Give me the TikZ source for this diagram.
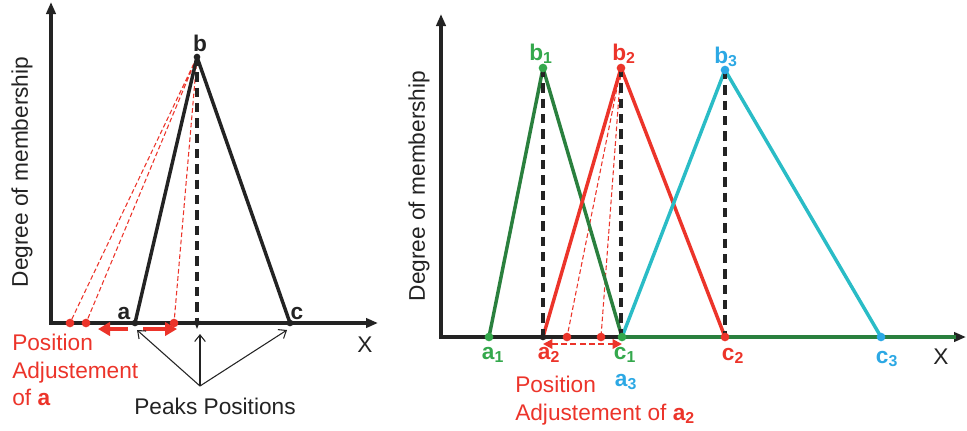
\documentclass[tikz,border=0pt]{standalone}
\usepackage{fontspec}
\setmainfont{Liberation Sans}
\usetikzlibrary{arrows.meta,positioning,calc,shapes.geometric}

\definecolor{mfgray}{RGB}{35,35,35}
\definecolor{mfred}{RGB}{236,52,42}
\definecolor{mfgreen}{RGB}{42,128,62}
\definecolor{mflgreen}{RGB}{52,168,76}
\definecolor{mfcyan}{RGB}{42,188,198}
\definecolor{mfblue}{RGB}{44,168,228}

\begin{document}
\begin{tikzpicture}[x=0.75pt,y=-0.75pt,
  every node/.style={inner sep=0pt},
  axis/.style={line width=2.4pt,mfgray,{Triangle[length=9pt,width=7pt]}-{Triangle[length=9pt,width=7pt]}},
  memb/.style={line width=2.6pt,line join=round},
  peakline/.style={line width=2.6pt,mfgray,dash pattern=on 7pt off 4.5pt},
  adjline/.style={mfred,line width=0.8pt,dash pattern=on 3.5pt off 2pt},
  dot/.style={circle,fill,minimum size=6.5pt},
  txt/.style={font=\fontsize{17}{20.6}\selectfont},
  lbl/.style={font=\fontsize{17}{20.6}\selectfont\bfseries}]
\useasboundingbox (0,0) rectangle (967,430);

% left: one triangle
\coordinate (o1) at (51,323);
\coordinate (xend1) at (378,323);
\coordinate (yend1) at (51,2);
\draw[axis] (yend1) -- (o1) -- (xend1);

\coordinate (a) at (135,323);
\coordinate (b) at (197,57);
\coordinate (c) at (290,323);
\coordinate (bfoot) at (197,323);
\coordinate (pa1) at (70,323);
\coordinate (pa2) at (86,323);
\coordinate (pa3) at (174,323);

\draw[adjline] (b) -- (pa1) (b) -- (pa2) (b) -- (pa3);
\draw[memb,mfgray] (a) -- (b) -- (c);
\draw[peakline] (b) -- (bfoot);
\foreach \p in {a,b,c} \node[dot,mfgray,minimum size=5pt] at (\p) {};
\node[mfgray,isosceles triangle,shape border rotate=-90,fill,minimum size=5pt] at (bfoot) {};
\foreach \p in {pa1,pa2,pa3} \node[dot,mfred] at (\p) {};

\coordinate (mvl0) at (128,329);
\coordinate (mvl1) at (98,329);
\coordinate (mvr0) at (143,329);
\coordinate (mvr1) at (177,329);
\draw[mfred,line width=2.8pt,-{Triangle[length=9pt,width=10pt]}] (mvl0) -- (mvl1);
\draw[mfred,line width=2.8pt,-{Triangle[length=9pt,width=10pt]}] (mvr0) -- (mvr1);

\node[lbl,mfgray] (la) at (124,314) {a};
\node[lbl,mfgray] (lb) at (200,43) {b};
\node[lbl,mfgray] (lc) at (297,314) {c};
\node[txt,mfgray] (lx1) at (365,345) {X};
\node[txt,mfgray,rotate=90] (ylab1) at (22,172) {Degree of membership};
\node[txt,mfred,align=left,anchor=north west] (adj1) at (12,334) {Position\\Adjustement\\of \textbf{a}};

\node[txt,mfgray] (peaks) at (215,406) {Peaks Positions};
\coordinate (pk) at (200,386);
\coordinate (pka) at (137,330);
\coordinate (pkb) at (200,334);
\coordinate (pkc) at (287,330);
\draw[mfgray,line width=0.8pt,-{Straight Barb[length=5pt,width=8pt]}] (pk) -- (pka);
\draw[mfgray,line width=0.8pt,-{Straight Barb[length=5pt,width=8pt]}] (pk) -- (pkb);
\draw[mfgray,line width=0.8pt,-{Straight Barb[length=5pt,width=8pt]}] (pk) -- (pkc);

% right: three overlapping triangles
\coordinate (o2) at (441,337);
\coordinate (xend2) at (966,337);
\coordinate (yend2) at (441,14);
\draw[axis] (yend2) -- (o2) -- (xend2);

\coordinate (a1) at (489,337);
\coordinate (b1) at (543,68);
\coordinate (c1) at (622,337);
\coordinate (a2) at (543,337);
\coordinate (b2) at (621,68);
\coordinate (c2) at (725,337);
\coordinate (a3) at (622,337);
\coordinate (b3) at (725,70);
\coordinate (c3) at (881,337);
\coordinate (b2foot) at (621,337);
\coordinate (pb1) at (567,337);
\coordinate (pb2) at (601,337);
\coordinate (gend) at (956,337);

\draw[mfgreen,line width=2.4pt] (c1) -- (gend);
\draw[adjline] (b2) -- (pb1) (b2) -- (pb2);
\draw[memb,mfgreen] (a1) -- (b1) -- (c1);
\draw[memb,mfred] (a2) -- (b2) -- (c2);
\draw[memb,mfcyan] (a3) -- (b3) -- (c3);
\draw[peakline] (b1) -- (a2);
\draw[peakline] (b2) -- (b2foot);
\draw[peakline] (b3) -- (c2);

\foreach \p in {a1,b1} \node[dot,mflgreen] at (\p) {};
\node[dot,mfgray,minimum size=5pt] at (a2) {};
\foreach \p in {b2,c2,pb1,pb2} \node[dot,mfred] at (\p) {};
\foreach \p in {b3,c3} \node[dot,mfblue] at (\p) {};
\node[dot,mflgreen] at (c1) {};

\coordinate (sh0) at (543,344);
\coordinate (sh1) at (622,344);
\draw[mfred,line width=1.6pt,dash pattern=on 4.5pt off 2.5pt,{Triangle[length=7pt,width=7pt]}-{Triangle[length=7pt,width=7pt]}] (sh0) -- (sh1);

\node[lbl,mflgreen] (lb1) at (541,54) {b\textsubscript{1}};
\node[lbl,mfred] (lb2) at (624,54) {b\textsubscript{2}};
\node[lbl,mfblue] (lb3) at (726,57) {b\textsubscript{3}};
\node[lbl,mflgreen] (la1) at (493,355) {a\textsubscript{1}};
\node[lbl,mfred] (la2) at (549,355) {a\textsubscript{2}};
\node[lbl,mflgreen] (lc1) at (625,355) {c\textsubscript{1}};
\node[lbl,mfblue] (la3) at (626,382) {a\textsubscript{3}};
\node[lbl,mfred] (lc2) at (733,356) {c\textsubscript{2}};
\node[lbl,mfblue] (lc3) at (887,359) {c\textsubscript{3}};
\node[txt,mfgray] (lx2) at (941,357) {X};
\node[txt,mfgray,rotate=90] (ylab2) at (419,186) {Degree of membership};
\node[txt,mfred,align=left,anchor=north west] (adj2) at (515,376) {Position\\Adjustement of \textbf{a\textsubscript{2}}};
\end{tikzpicture}
\end{document}
